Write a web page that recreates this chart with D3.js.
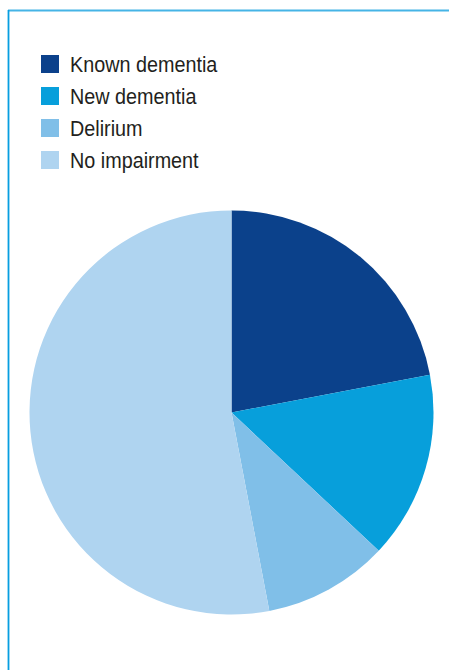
<!DOCTYPE html>
<html>
<head>
<meta charset="utf-8">
<script src="https://cdn.jsdelivr.net/npm/d3@7"></script>
<style>
html,body{margin:0;padding:0;background:#fff;}
svg{display:block;}
</style>
</head>
<body>
<svg id="chart" width="449" height="670"></svg>
<script>
const categories = ["Known dementia", "New dementia", "Delirium", "No impairment"];
const values = [22, 15, 10, 53];
const colors = ["#0b418b", "#079fdb", "#80bfe8", "#afd4f0"];

const svg = d3.select("#chart");

// frame lines
svg.append("line").attr("x1", 8).attr("x2", 449).attr("y1", 10.5).attr("y2", 10.5)
  .attr("stroke", "#45b4e6").attr("stroke-width", 1.8);
svg.append("line").attr("x1", 8.5).attr("x2", 8.5).attr("y1", 10).attr("y2", 670)
  .attr("stroke", "#079ee0").attr("stroke-width", 1.8);

// legend
const legend = svg.append("g").attr("transform", "translate(41,55)");
const rows = legend.selectAll("g").data(categories).join("g")
  .attr("transform", (d, i) => `translate(0,${i * 32})`);
rows.append("rect").attr("width", 18).attr("height", 18)
  .attr("fill", (d, i) => colors[i]);
rows.append("text")
  .attr("transform", "translate(29,17.3) scale(0.9,1)")
  .attr("font-family", "'Liberation Sans', Arial, sans-serif")
  .attr("font-size", 22)
  .attr("fill", "#231f20")
  .text(d => d);

// pie
const cx = 231.5, cy = 412.5, r = 202;
const pie = d3.pie().sort(null).value(d => d)(values);
const arc = d3.arc().innerRadius(0).outerRadius(r);
svg.append("g").attr("transform", `translate(${cx},${cy})`)
  .selectAll("path").data(pie).join("path")
  .attr("d", arc)
  .attr("fill", (d, i) => colors[i]);
</script>
</body>
</html>
